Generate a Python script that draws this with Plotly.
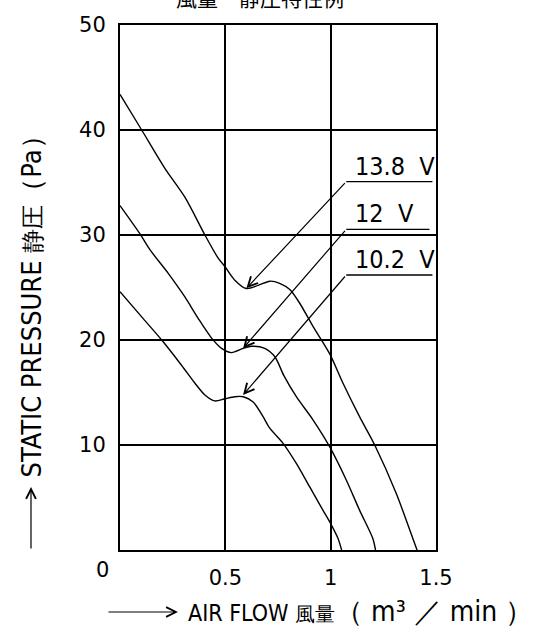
import plotly.graph_objects as go

# Data
flow_138 = [0, 0.103, 0.213, 0.308, 0.403, 0.466, 0.498, 0.545, 0.600, 0.656, 0.711, 0.758,
            0.806, 0.853, 0.916, 0.995, 1.058, 1.137, 1.209, 1.311, 1.39, 1.41]
pres_138 = [43.4, 40.0, 36.35, 33.6, 30.0, 27.8, 27.0, 25.7, 24.9, 25.2, 25.6, 25.4,
            24.8, 23.5, 21.3, 18.7, 15.9, 12.7, 10.0, 5.4, 1.1, 0]

flow_12 = [0, 0.095, 0.142, 0.229, 0.308, 0.371, 0.434, 0.482, 0.529, 0.585, 0.624, 0.687,
           0.735, 0.778, 0.837, 0.916, 0.995, 1.074, 1.137, 1.2, 1.213]
pres_12 = [32.8, 30.1, 28.6, 26.35, 24.1, 22.06, 20.2, 19.2, 18.8, 19.2, 19.4, 19.2,
           18.4, 16.6, 14.6, 12.4, 9.84, 6.67, 3.8, 1.1, 0]

flow_102 = [0, 0.103, 0.198, 0.292, 0.355, 0.403, 0.450, 0.498, 0.545, 0.585, 0.632, 0.679,
            0.711, 0.774, 0.837, 0.9, 0.963, 1.003, 1.035, 1.052]
pres_102 = [24.6, 22.2, 20.0, 17.6, 15.9, 14.76, 14.2, 14.4, 14.6, 14.6, 14.1, 12.7,
            11.6, 10.16, 8.25, 6.03, 3.8, 2.4, 1.1, 0]

series_names = ["13.8\u00a0\u00a0V", "12\u00a0\u00a0V", "10.2\u00a0\u00a0V"]
x_tickvals = [0.5, 1, 1.5]
x_ticktext = ["0.5", "1", "1.5"]
y_tickvals = [10, 20, 30, 40, 50]
y_ticktext = ["10", "20", "30", "40", "50"]

NARROW = "DejaVu Sans Condensed, Liberation Sans Narrow, sans-serif"
TICKFONT = dict(family="DejaVu Sans, sans-serif", size=21, color="black")

fig = go.Figure()
for xs, ys, nm in [(flow_138, pres_138, series_names[0]),
                   (flow_12, pres_12, series_names[1]),
                   (flow_102, pres_102, series_names[2])]:
    fig.add_trace(go.Scatter(x=xs, y=ys, mode="lines", name=nm,
                             line=dict(color="black", width=1.4, shape="spline", smoothing=0.8),
                             showlegend=False, hoverinfo="skip"))

# pointer labels: (tip x, tip y, tail y, underline right x)
pointers = [(0.600, 24.92, 35.08, 1.483),
            (0.584, 19.2, 30.54, 1.469),
            (0.584, 14.76, 26.19, 1.483)]
ann = []
shapes = []
tail_x = 1.074
for (tx, ty, uy, ux), nm in zip(pointers, series_names):
    ann.append(dict(x=tx, y=ty, xref="x", yref="y", ax=tail_x, ay=uy, axref="x", ayref="y",
                    text="", showarrow=True, arrowhead=5, arrowsize=1.6, arrowwidth=1.2,
                    arrowcolor="black"))
    shapes.append(dict(type="line", xref="x", yref="y", x0=tail_x, x1=ux, y0=uy, y1=uy,
                       line=dict(color="black", width=1.3)))
    ann.append(dict(x=1.104, y=uy, xref="x", yref="y", text=nm, showarrow=False,
                    xanchor="left", yanchor="bottom", yshift=-1,
                    font=dict(family=NARROW, size=25, color="black")))

# corner zero label
ann.append(dict(x=-0.054, y=-0.038, xref="paper", yref="paper", text="0", showarrow=False,
                xanchor="center", yanchor="middle", font=TICKFONT))

# title (cut off at top)
ann.append(dict(x=(260 - 120) / 316, y=(550 + 3) / 525, xref="paper", yref="paper",
                text="風量－静圧特性例", showarrow=False, xanchor="center", yanchor="middle",
                font=dict(family="Noto Sans CJK JP, sans-serif", size=21, color="black")))

# x-axis title + arrow
ann.append(dict(x=(186 - 120) / 316, y=(550 - 611) / 525, xref="paper", yref="paper",
                text=("AIR FLOW <span style='font-size:20px'>風量</span>"
                      "<span style='font-size:28px'>（\u00a0m³\u00a0／\u00a0min\u00a0）</span>"),
                showarrow=False, xanchor="left", yanchor="middle",
                font=dict(family=NARROW, size=23, color="black")))
ann.append(dict(x=(178 - 120) / 316, y=(550 - 612) / 525, xref="paper", yref="paper",
                text="", showarrow=True, ax=-71, ay=0, arrowhead=5, arrowsize=1.6,
                arrowwidth=1.2, arrowcolor="black"))

# y-axis title + arrow
ann.append(dict(x=(31 - 120) / 316, y=(550 - 480) / 525, xref="paper", yref="paper",
                text="STATIC PRESSURE <span style='font-size:24px'>静圧</span>（Pa）",
                showarrow=False, textangle=-90, xanchor="center", yanchor="bottom",
                font=dict(family=NARROW, size=27, color="black")))
ann.append(dict(x=(31 - 120) / 316, y=(550 - 487) / 525, xref="paper", yref="paper",
                text="", showarrow=True, ax=0, ay=63, arrowhead=5, arrowsize=1.6,
                arrowwidth=1.2, arrowcolor="black"))

fig.update_layout(
    width=557, height=629, autosize=False,
    margin=dict(l=120, r=121, t=25, b=79, pad=0),
    paper_bgcolor="white", plot_bgcolor="white",
    annotations=ann, shapes=shapes,
    xaxis=dict(range=[0, 1.5], tickvals=x_tickvals, ticktext=x_ticktext, ticks="",
               showgrid=True, gridcolor="black", gridwidth=1.5, zeroline=False,
               showline=True, mirror=True, linecolor="black", linewidth=2,
               tickfont=TICKFONT, ticklabelstandoff=8, fixedrange=True),
    yaxis=dict(range=[0, 50], tickvals=y_tickvals, ticktext=y_ticktext, ticks="",
               showgrid=True, gridcolor="black", gridwidth=1.5, zeroline=False,
               showline=True, mirror=True, linecolor="black", linewidth=2,
               tickfont=TICKFONT, ticklabelstandoff=8, fixedrange=True),
)

fig.write_html("out.html", config={"displayModeBar": False},
               post_script="document.body.style.margin='0';document.body.style.overflow='hidden';")
